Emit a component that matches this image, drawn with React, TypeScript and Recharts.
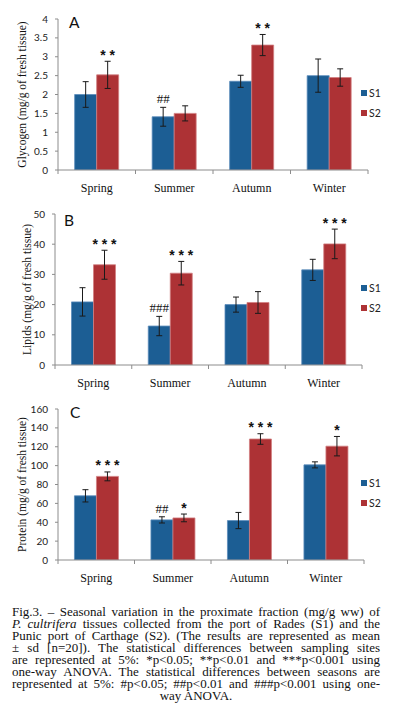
import React from 'react';
import { BarChart, Bar, XAxis, YAxis, ErrorBar, LabelList } from 'recharts';

const seasons = ['Spring', 'Summer', 'Autumn', 'Winter'];
const seriesNames = ['S1', 'S2'];

const glycogenS1 = [2.0, 1.41, 2.35, 2.5];
const glycogenS1Sd = [0.34, 0.25, 0.16, 0.44];
const glycogenS2 = [2.52, 1.5, 3.31, 2.45];
const glycogenS2Sd = [0.36, 0.2, 0.28, 0.23];
const glycogenS1Marks = ['', '##', '', ''];
const glycogenS2Marks = ['**', '', '**', ''];
const glycogenTicks = [0, 0.5, 1, 1.5, 2, 2.5, 3, 3.5, 4];

const lipidsS1 = [20.9, 12.9, 20.0, 31.5];
const lipidsS1Sd = [4.7, 3.2, 2.5, 3.5];
const lipidsS2 = [33.2, 30.4, 20.7, 40.1];
const lipidsS2Sd = [4.8, 3.9, 3.6, 4.9];
const lipidsS1Marks = ['', '###', '', ''];
const lipidsS2Marks = ['***', '***', '', '***'];
const lipidsTicks = [0, 10, 20, 30, 40, 50];

const proteinS1 = [68.0, 42.5, 41.8, 100.8];
const proteinS1Sd = [6.5, 3.3, 8.6, 3.2];
const proteinS2 = [88.6, 44.6, 128.2, 120.6];
const proteinS2Sd = [4.7, 4.1, 5.6, 10.3];
const proteinS1Marks = ['', '##', '', ''];
const proteinS2Marks = ['***', '*', '***', '*'];
const proteinTicks = [0, 20, 40, 60, 80, 100, 120, 140, 160];

const BLUE = '#1c5e94';
const RED = '#ad3235';
const AXIS = '#8c8c8c';
const SERIF = '"Liberation Serif", "Times New Roman", serif';
const SANS = 'Lato, "Liberation Sans", sans-serif';

const CHART_W = 393;
const CHART_H = 200;

function buildData(s1: number[], s1Sd: number[], s2: number[], s2Sd: number[]) {
  return seasons.map((season, i) => ({
    season,
    S1: s1[i],
    S1Sd: s1Sd[i],
    S2: s2[i],
    S2Sd: s2Sd[i],
  }));
}

function makeMarkLabel(marks: string[], values: number[], sds: number[]) {
  return (props: any) => {
    const vb = props.viewBox || {};
    const x = vb.x ?? props.x;
    const y = vb.y ?? props.y;
    const width = vb.width ?? props.width;
    const height = vb.height ?? props.height;
    const index = props.index;
    const mark = marks[index];
    if (!mark) return null;
    const ppu = height / values[index];
    const errTop = y - sds[index] * ppu;
    const isHash = mark.startsWith('#');
    if (isHash) {
      return (
        <text x={x + width / 2} y={errTop - 4} textAnchor="middle" fontFamily={SERIF} fontSize={13} fill="#111">
          {mark}
        </text>
      );
    }
    return (
      <text x={x + width / 2} y={errTop - 1.5} textAnchor="middle" fontFamily='"Liberation Sans", Arial, sans-serif' fontWeight="bold" fontSize={14} fill="#111">
        {mark.split('').join(' ')}
      </text>
    );
  };
}

type PanelProps = {
  top: number;
  yAxisW: number;
  right: number;
  letter: string;
  letterX: number;
  letterY: number;
  titleX: number;
  yTitle: string;
  ticks: number[];
  s1: number[];
  s1Sd: number[];
  s2: number[];
  s2Sd: number[];
  s1Marks: string[];
  s2Marks: string[];
};

function Panel(p: PanelProps) {
  const data = buildData(p.s1, p.s1Sd, p.s2, p.s2Sd);
  const plotW = CHART_W - p.yAxisW - p.right;
  const band = plotW / seasons.length;
  const marginTop = 19;
  const domainMax = p.ticks[p.ticks.length - 1];

  const CatTick = (tp: any) => {
    const { x, y, payload, index } = tp;
    return (
      <g>
        <line x1={x - band / 2} x2={x - band / 2} y1={y} y2={y + 4} stroke={AXIS} />
        {index === seasons.length - 1 && (
          <line x1={x + band / 2} x2={x + band / 2} y1={y} y2={y + 4} stroke={AXIS} />
        )}
        <text x={x} y={y + 22} textAnchor="middle" fontFamily={SERIF} fontSize={12} fill="#111">
          {payload.value}
        </text>
      </g>
    );
  };

  const YTitle = (lp: any) => {
    const vb = lp.viewBox || { x: 0, y: 0, width: 0, height: 0 };
    const cx = vb.x + p.titleX;
    const cy = vb.y + vb.height / 2;
    return (
      <text
        x={cx}
        y={cy}
        transform={`rotate(-90, ${cx}, ${cy})`}
        textAnchor="middle"
        dominantBaseline="central"
        fontFamily={SERIF}
        fontSize={11.5}
        fill="#111"
      >
        {p.yTitle}
      </text>
    );
  };

  return (
    <div style={{ position: 'absolute', left: 0, top: p.top, width: CHART_W, height: CHART_H }}>
      <BarChart
        width={CHART_W}
        height={CHART_H}
        data={data}
        margin={{ top: marginTop, right: p.right, bottom: 0, left: 0 }}
        barCategoryGap="21.5%"
        barGap={0}
      >
        <XAxis
          dataKey="season"
          axisLine={{ stroke: AXIS }}
          tickLine={false}
          tickSize={0}
          tickMargin={0}
          height={30}
          interval={0}
          tick={CatTick}
        />
        <YAxis
          width={p.yAxisW}
          domain={[0, domainMax]}
          ticks={p.ticks}
          allowDataOverflow
          axisLine={{ stroke: AXIS }}
          tickLine={{ stroke: AXIS }}
          tickSize={3}
          tickMargin={7}
          tick={{ fill: '#222', fontSize: 10, fontFamily: SANS }}
          label={{ content: YTitle }}
        />
        <Bar dataKey="S1" fill={BLUE} stroke="#5a8cbb" strokeWidth={0.8} isAnimationActive={false}>
          <ErrorBar dataKey="S1Sd" width={3} stroke="#1a1a1a" strokeWidth={1} isAnimationActive={false} />
          <LabelList dataKey="S1" content={makeMarkLabel(p.s1Marks, p.s1, p.s1Sd)} />
        </Bar>
        <Bar dataKey="S2" fill={RED} stroke="#d27f81" strokeWidth={0.8} isAnimationActive={false}>
          <ErrorBar dataKey="S2Sd" width={3} stroke="#1a1a1a" strokeWidth={1} isAnimationActive={false} />
          <LabelList dataKey="S2" content={makeMarkLabel(p.s2Marks, p.s2, p.s2Sd)} />
        </Bar>
      </BarChart>
      <div
        style={{
          position: 'absolute',
          left: p.letterX,
          top: p.letterY - 14,
          fontFamily: SANS,
          fontSize: 15.5,
          lineHeight: '17px',
          color: '#111',
        }}
      >
        {p.letter}
      </div>
      {seriesNames.map((name, i) => (
        <div
          key={name}
          style={{
            position: 'absolute',
            left: 360.5,
            top: marginTop + 71 + i * 20 - 2,
            height: 10,
            display: 'flex',
            alignItems: 'center',
            fontFamily: SANS,
            fontSize: 10.5,
            color: '#222',
          }}
        >
          <span style={{ display: 'inline-block', width: 6, height: 6, background: i === 0 ? BLUE : RED, marginRight: 2.5 }} />
          <span>{name}</span>
        </div>
      ))}
    </div>
  );
}

const captionLines: React.ReactNode[] = [
  'Fig.3. \u2013 Seasonal variation in the proximate fraction (mg/g ww) of',
  <>
    <i>P. cultrifera</i> tissues collected from the port of Rades (S1) and the
  </>,
  'Punic port of Carthage (S2). (The results are represented as mean',
  '\u00b1 sd [n=20]). The statistical differences between sampling sites',
  'are represented at 5%: *p<0.05; **p<0.01 and ***p<0.001 using',
  'one-way ANOVA. The statistical differences between seasons are',
  'represented at 5%: #p<0.05; ##p<0.01 and ###p<0.001 using one-',
  'way ANOVA.',
];

export default function App() {
  return (
    <div style={{ position: 'absolute', left: 0, top: 0, width: 393, height: 721, background: '#fff', overflow: 'hidden' }}>
      <Panel
        top={0}
        yAxisW={58}
        right={25}
        letter="A"
        letterX={69}
        letterY={28}
        titleX={22}
        yTitle="Glycogen (mg/g of fresh tissue)"
        ticks={glycogenTicks}
        s1={glycogenS1}
        s1Sd={glycogenS1Sd}
        s2={glycogenS2}
        s2Sd={glycogenS2Sd}
        s1Marks={glycogenS1Marks}
        s2Marks={glycogenS2Marks}
      />
      <Panel
        top={195}
        yAxisW={55}
        right={31}
        letter="B"
        letterX={64}
        letterY={31}
        titleX={27}
        yTitle="Lipids (mg/g of fresh tissue)"
        ticks={lipidsTicks}
        s1={lipidsS1}
        s1Sd={lipidsS1Sd}
        s2={lipidsS2}
        s2Sd={lipidsS2Sd}
        s1Marks={lipidsS1Marks}
        s2Marks={lipidsS2Marks}
      />
      <Panel
        top={390}
        yAxisW={58}
        right={29}
        letter="C"
        letterX={70}
        letterY={28}
        titleX={22}
        yTitle="Protein (mg/g of fresh tissue)"
        ticks={proteinTicks}
        s1={proteinS1}
        s1Sd={proteinS1Sd}
        s2={proteinS2}
        s2Sd={proteinS2Sd}
        s1Marks={proteinS1Marks}
        s2Marks={proteinS2Marks}
      />
      <div style={{ position: 'absolute', left: 12, top: 606, width: 368, fontFamily: SERIF, fontSize: 13, color: '#111' }}>
        {captionLines.map((line, i) => (
          <div
            key={i}
            style={{
              height: 11.95,
              lineHeight: '11.95px',
              whiteSpace: 'nowrap',
              textAlign: i === captionLines.length - 1 ? 'center' : 'justify',
              textAlignLast: i === captionLines.length - 1 ? 'center' : 'justify',
            }}
          >
            {line}
          </div>
        ))}
      </div>
    </div>
  );
}
